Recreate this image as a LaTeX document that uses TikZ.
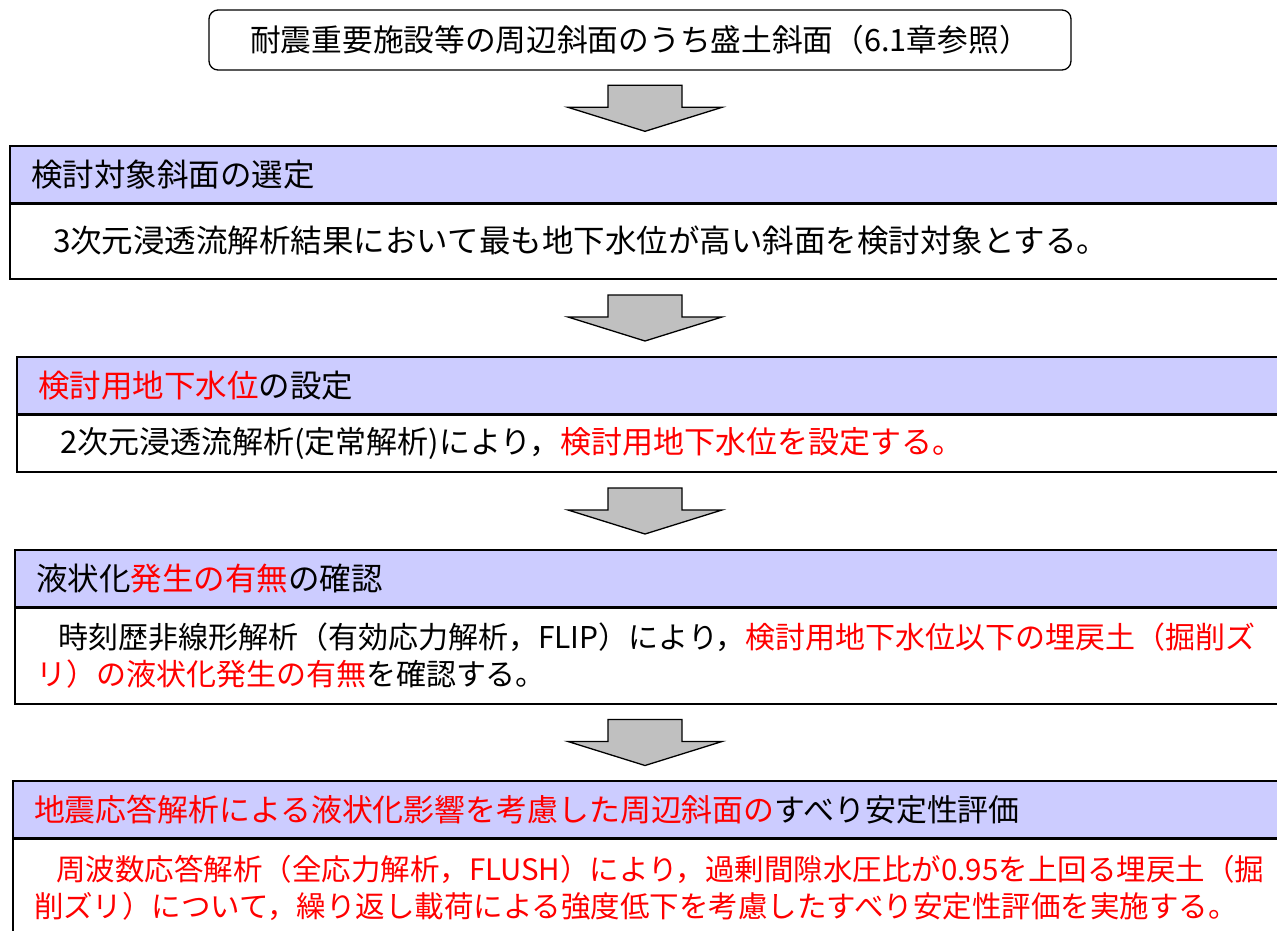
\documentclass[tikz,border=0pt]{standalone}
\usepackage{fontspec}
\setmainfont{Noto Sans CJK JP}
\usepackage{xcolor}
\usetikzlibrary{positioning,calc}
\definecolor{hdrblue}{RGB}{204,204,255}
\definecolor{arrgray}{RGB}{192,192,192}
\definecolor{hlred}{RGB}{255,0,0}
\newcommand{\hl}[1]{\textcolor{hlred}{#1}}
\newcommand{\ind}{\hspace*{22pt}}
\newcommand{\fs}[1]{\fontsize{#1}{37}\selectfont}
\tikzset{
  startbox/.style={draw, line width=1.3pt, rounded corners=9pt, font=\fs{30.7},
                   minimum width=862pt, minimum height=60pt},
  hdr/.style={draw, line width=1.5pt, fill=hdrblue, anchor=north west, outer sep=0pt,
              align=left, text width=1240pt, inner xsep=21pt, minimum height=57pt,
              font=\fs{31.5}},
  body/.style={draw, line width=1.5pt, fill=white, anchor=north west, outer sep=0pt,
               align=left, text width=1240pt, inner xsep=21pt, font=\fs{30}},
  sepline/.style={line width=3pt},
  flowarrow/.style={draw, line width=1.3pt, fill=arrgray, line join=miter},
}
% block arrow between two boxes
\newcommand{\downflow}[2]{%
  \path (axis |- #1.south) -- (axis |- #2.north) coordinate[pos=0.5] (mid);
  \draw[flowarrow] ($(mid)+(-37,-23)$) -- ++(74,0) -- ++(0,22) -- ++(40,0)
    -- ($(mid)+(0,23)$) -- ($(mid)+(-77,-1)$) -- ++(40,0) -- cycle;
}

\begin{document}
\begin{tikzpicture}[x=1pt, y=-1pt]
  \useasboundingbox (0,0) rectangle (1277,930);
  \clip (0,0) rectangle (1277,930);
  \coordinate (axis) at (645,0);

  % start
  \node[startbox] (start) at (640,40) {耐震重要施設等の周辺斜面のうち盛土斜面（6.1章参照）};

  % step 1
  \node[hdr] (hdr1) at (10,146) {検討対象斜面の選定};
  \node[body, minimum height=76pt, font=\fs{31.5}] (body1) at (hdr1.south west)
    {\ind 3次元浸透流解析結果において最も地下水位が高い斜面を検討対象とする。};
  \draw[sepline] (hdr1.south west) -- (hdr1.south east);

  % step 2
  \node[hdr] (hdr2) at (17,357) {\hl{検討用地下水位}の設定};
  \node[body, minimum height=58pt, font=\fs{31}] (body2) at (hdr2.south west)
    {\ind 2次元浸透流解析(定常解析)により，\hl{検討用地下水位を設定する。}};
  \draw[sepline] (hdr2.south west) -- (hdr2.south east);

  % step 3
  \node[hdr] (hdr3) at (15,550) {液状化\hl{発生の有無}の確認};
  \node[body, minimum height=97pt] (body3) at (hdr3.south west)
    {\ind 時刻歴非線形解析（有効応力解析，FLIP）により，\hl{検討用地下水位以下の埋戻土（掘削ズ}\\
     \hl{リ）の液状化発生の有無}を確認する。};
  \draw[sepline] (hdr3.south west) -- (hdr3.south east);

  % step 4
  \node[hdr, font=\fs{30.9}] (hdr4) at (13,781) {\hl{地震応答解析による液状化影響を考慮した周辺斜面の}すべり安定性評価};
  \node[body, minimum height=100pt, text=hlred, font=\fs{29.5}] (body4) at (hdr4.south west)
    {\ind 周波数応答解析（全応力解析，FLUSH）により，過剰間隙水圧比が0.95を上回る埋戻土（掘\\
     削ズリ）について，繰り返し載荷による強度低下を考慮したすべり安定性評価を実施する。};
  \draw[sepline] (hdr4.south west) -- (hdr4.south east);

  % arrows
  \downflow{start}{hdr1}
  \downflow{body1}{hdr2}
  \downflow{body2}{hdr3}
  \downflow{body3}{hdr4}
\end{tikzpicture}
\end{document}
